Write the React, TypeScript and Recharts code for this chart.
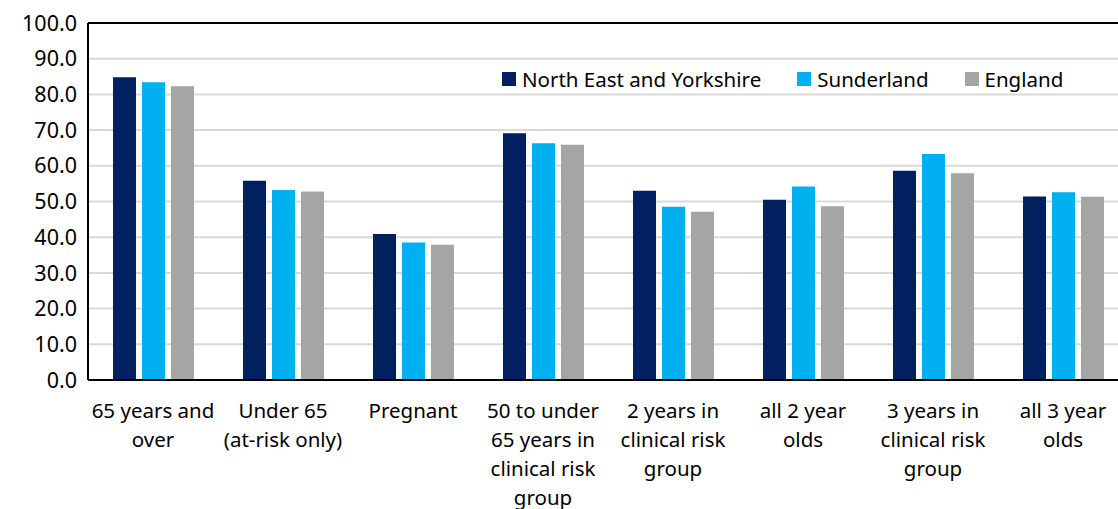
import React from "react";
import {
  BarChart,
  Bar,
  XAxis,
  YAxis,
  CartesianGrid,
  Legend,
  ReferenceLine,
} from "recharts";

// categories (x labels are pre-wrapped, "|" marks a line break)
const categories = [
  "65 years and|over",
  "Under 65|(at-risk only)",
  "Pregnant",
  "50 to under|65 years in|clinical risk|group",
  "2 years in|clinical risk|group",
  "all 2 year|olds",
  "3 years in|clinical risk|group",
  "all 3 year|olds",
];

const northEastYorkshire = [84.8, 55.8, 40.9, 69.1, 53.0, 50.5, 58.6, 51.4];
const sunderland = [83.4, 53.2, 38.5, 66.3, 48.5, 54.2, 63.3, 52.6];
const england = [82.3, 52.8, 37.9, 65.9, 47.1, 48.7, 57.9, 51.3];

const yTicks = [0, 10, 20, 30, 40, 50, 60, 70, 80, 90, 100];

const series = [
  { key: "ney", name: "North East and Yorkshire", color: "#002060" },
  { key: "sun", name: "Sunderland", color: "#00B0F0" },
  { key: "eng", name: "England", color: "#A5A5A5" },
];

const data = categories.map((c, i) => ({
  cat: c,
  ney: northEastYorkshire[i],
  sun: sunderland[i],
  eng: england[i],
}));

const FONT = "'Noto Sans', sans-serif";

function CatTick(props: any) {
  const { x, y, payload } = props;
  const lines = String(payload.value).split("|");
  return (
    <text x={x} y={y + 30} textAnchor="middle" fill="#000" fontSize={20.5} fontFamily={FONT}>
      {lines.map((l, i) => (
        <tspan key={i} x={x} dy={i === 0 ? 0 : 29}>
          {l}
        </tspan>
      ))}
    </text>
  );
}

function LegendBox() {
  return (
    <div style={{ display: "flex", alignItems: "center", fontFamily: FONT, fontSize: 20.5, color: "#000", whiteSpace: "nowrap" }}>
      {series.map((s) => (
        <div key={s.key} style={{ display: "flex", alignItems: "center", marginRight: 36 }}>
          <span style={{ width: 14, height: 14, background: s.color, display: "inline-block", marginRight: 6 }} />
          <span>{s.name}</span>
        </div>
      ))}
    </div>
  );
}

export default function App() {
  return (
    <div style={{ position: "absolute", left: 0, top: 0, width: 1118, height: 509, overflow: "hidden", background: "#fff" }}>
      <BarChart
        width={1140}
        height={509}
        data={data}
        margin={{ top: 23, right: 12, bottom: 0, left: 0 }}
        barSize={23}
        barGap={6}
      >
        <CartesianGrid vertical={false} stroke="#d9d9d9" strokeWidth={2} />
        <XAxis
          dataKey="cat"
          height={129}
          interval={0}
          tickLine={false}
          axisLine={{ stroke: "#000", strokeWidth: 2 }}
          tick={<CatTick />}
        />
        <YAxis
          width={88}
          domain={[0, 100]}
          ticks={yTicks}
          tickFormatter={(v: number) => v.toFixed(1)}
          tickLine={false}
          tickSize={0}
          tickMargin={11}
          axisLine={{ stroke: "#000", strokeWidth: 2 }}
          tick={{ fill: "#000", fontSize: 21.5, fontFamily: FONT }}
        />
        <ReferenceLine y={100} stroke="#000" strokeWidth={2} />
        <Legend
          layout="horizontal"
          verticalAlign="middle"
          align="center"
          content={<LegendBox />}
          wrapperStyle={{ top: 65, left: 502, width: "auto" }}
        />
        {series.map((s) => (
          <Bar key={s.key} dataKey={s.key} name={s.name} fill={s.color} isAnimationActive={false} />
        ))}
      </BarChart>
    </div>
  );
}
